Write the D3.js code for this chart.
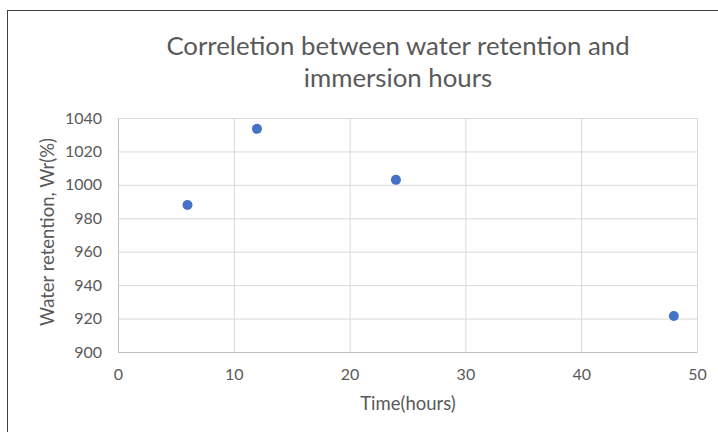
<!DOCTYPE html>
<html>
<head>
<meta charset="utf-8">
<script src="https://cdn.jsdelivr.net/npm/d3@7"></script>
<style>
  body { margin: 0; background: #fff; }
  text { font-family: Lato, "Open Sans", sans-serif; fill: #595959; }
</style>
</head>
<body>
<svg id="chart" width="718" height="432"></svg>
<script>
// data
const hours = [6, 12, 24, 48]
const retention = [988, 1033.5, 1003, 921.5]
const xTicks = [0, 10, 20, 30, 40, 50]
const yTicks = [900, 920, 940, 960, 980, 1000, 1020, 1040]
const titleLines = ["Correletion between water retention and", "immersion hours"]

const svg = d3.select("#chart")
const margin = { top: 118, right: 21, bottom: 80, left: 118 }
const width = 718, height = 432

// chart frame
svg.append("rect")
    .attr("x", 7.5).attr("y", 10.5)
    .attr("width", 720).attr("height", 430)
    .attr("fill", "#fff").attr("stroke", "#404040").attr("stroke-width", 1)

const x = d3.scaleLinear().domain([0, 50]).range([margin.left, width - margin.right])
const y = d3.scaleLinear().domain([900, 1040]).range([height - margin.bottom, margin.top])

// gridlines
svg.append("g")
    .attr("transform", "translate(0," + y(900) + ")")
    .call(d3.axisBottom(x).tickValues(xTicks).tickSize(-(y(900) - y(1040))).tickFormat(""))
    .call(g => g.select(".domain").remove())
    .call(g => g.selectAll("line").attr("stroke", "#d9d9d9"))

svg.append("g")
    .attr("transform", "translate(" + x(0) + ",0)")
    .call(d3.axisLeft(y).tickValues(yTicks).tickSize(-(x(50) - x(0))).tickFormat(""))
    .call(g => g.select(".domain").remove())
    .call(g => g.selectAll("line").attr("stroke", "#d9d9d9"))

// tick labels
svg.append("g")
    .attr("transform", "translate(0," + y(900) + ")")
    .call(d3.axisBottom(x).tickValues(xTicks).tickSize(0).tickPadding(17).tickFormat(d3.format("d")))
    .call(g => g.select(".domain").attr("stroke", "#bfbfbf"))
    .call(g => g.selectAll("text").attr("font-size", 16).style("font-family", "Lato, sans-serif").attr("fill", "#595959"))

svg.append("g")
    .attr("transform", "translate(" + x(0) + ",0)")
    .call(d3.axisLeft(y).tickValues(yTicks).tickSize(0).tickPadding(16).tickFormat(d3.format("d")))
    .call(g => g.select(".domain").attr("stroke", "#bfbfbf"))
    .call(g => g.selectAll("text").attr("font-size", 16).style("font-family", "Lato, sans-serif").attr("fill", "#595959"))

// points
svg.append("g")
    .selectAll("circle")
    .data(hours)
    .join("circle")
    .attr("cx", d => x(d))
    .attr("cy", (d, i) => y(retention[i]))
    .attr("r", 5)
    .attr("fill", "#4472c4")

// title
svg.append("text")
    .attr("text-anchor", "middle")
    .attr("font-size", 25.8)
    .selectAll("tspan")
    .data(titleLines)
    .join("tspan")
    .attr("x", 398)
    .attr("y", (d, i) => 55 + i * 32)
    .text(d => d)

// axis titles
svg.append("text")
    .attr("x", 408).attr("y", 410)
    .attr("text-anchor", "middle")
    .attr("font-size", 18.5)
    .text("Time(hours)")

svg.append("text")
    .attr("transform", "translate(54,232) rotate(-90)")
    .attr("text-anchor", "middle")
    .attr("font-size", 18.5)
    .text("Water retention, Wr(%)")
</script>
</body>
</html>
